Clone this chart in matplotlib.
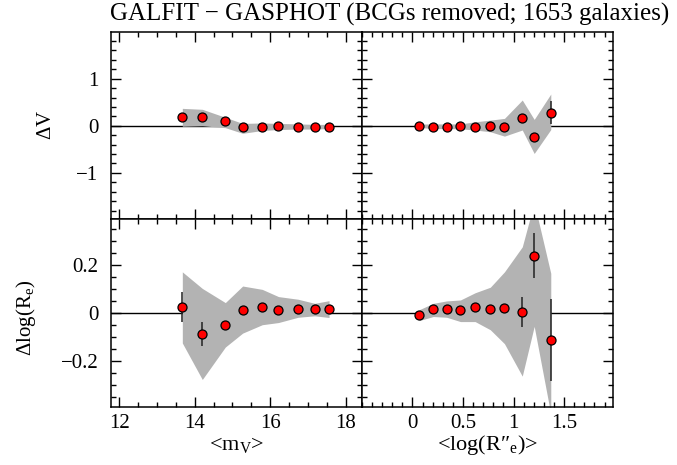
import numpy as np
import matplotlib
matplotlib.use("Agg")
import matplotlib.pyplot as plt
from matplotlib.ticker import MultipleLocator, FixedLocator, FuncFormatter

plt.rcParams['font.family'] = ['Liberation Serif', 'DejaVu Serif']
plt.rcParams['mathtext.fontset'] = 'custom'
plt.rcParams['mathtext.rm'] = 'Liberation Serif'
plt.rcParams['mathtext.it'] = 'Liberation Serif:italic'

# bins in apparent magnitude
mag = [13.67, 14.20, 14.81, 15.27, 15.79, 16.22, 16.74, 17.18, 17.56]
dv_mag = [0.18, 0.19, 0.11, -0.02, -0.02, -0.01, -0.02, -0.02, -0.02]
dv_mag_err = [0.03, 0.03, 0.03, 0.02, 0.02, 0.02, 0.02, 0.02, 0.02]
dv_mag_hi = [0.37, 0.35, 0.18, 0.05, 0.06, 0.05, 0.04, 0.03, 0.03]
dv_mag_lo = [-0.01, 0.0, -0.04, -0.16, -0.10, -0.08, -0.07, -0.07, -0.06]
dr_mag = [0.026, -0.086, -0.051, 0.015, 0.026, 0.015, 0.019, 0.018, 0.019]
dr_mag_err = [0.062, 0.05, 0.012, 0.008, 0.006, 0.005, 0.005, 0.004, 0.004]
dr_mag_hi = [0.172, 0.103, 0.044, 0.113, 0.099, 0.069, 0.058, 0.041, 0.052]
dr_mag_lo = [-0.124, -0.276, -0.141, -0.083, -0.048, -0.039, -0.017, -0.011, -0.018]

# bins in log effective radius
logre = [0.065, 0.206, 0.338, 0.475, 0.62, 0.77, 0.91, 1.086, 1.204, 1.368]
dv_re = [0.0, -0.02, -0.03, 0.0, -0.03, 0.0, -0.02, 0.17, -0.23, 0.28]
dv_re_err = [0.02, 0.02, 0.02, 0.02, 0.02, 0.02, 0.03, 0.04, 0.07, 0.24]
dv_re_hi = [0.036, 0.04, 0.04, 0.04, 0.085, 0.12, 0.157, 0.547, 0.135, 0.674]
dv_re_lo = [-0.035, -0.06, -0.06, -0.064, -0.09, -0.127, -0.22, -0.09, -0.588, -0.08]
dr_re = [-0.008, 0.017, 0.017, 0.012, 0.027, 0.018, 0.023, 0.005, 0.24, -0.113]
dr_re_err = [0.004, 0.005, 0.005, 0.006, 0.007, 0.008, 0.012, 0.062, 0.095, 0.17]
dr_re_hi = [0.014, 0.041, 0.051, 0.055, 0.085, 0.108, 0.172, 0.276, 0.46, 0.166]
dr_re_lo = [-0.031, -0.014, -0.017, -0.035, -0.035, -0.069, -0.127, -0.262, -0.055, -0.42]

fig, axs = plt.subplots(2, 2, figsize=(6.77, 4.65), dpi=100)
fig.subplots_adjust(left=0.164, right=0.905, bottom=0.125, top=0.931, wspace=0, hspace=0)

panels = [
    (axs[0, 0], mag, dv_mag, dv_mag_err, dv_mag_lo, dv_mag_hi),
    (axs[0, 1], logre, dv_re, dv_re_err, dv_re_lo, dv_re_hi),
    (axs[1, 0], mag, dr_mag, dr_mag_err, dr_mag_lo, dr_mag_hi),
    (axs[1, 1], logre, dr_re, dr_re_err, dr_re_lo, dr_re_hi),
]

def fmt(v, pos):
    s = '%g' % round(v, 3)
    return s.replace('-', '\u2212')

for ax, x, y, e, lo, hi in panels:
    ax.axhline(0, color='black', lw=1.0, zorder=1)
    ax.fill_between(x, lo, hi, color='#b3b3b3', lw=0, zorder=2)
    ax.errorbar(x, y, yerr=e, fmt='none', ecolor='#222222', elinewidth=1.1, zorder=3)
    ax.plot(x, y, 'o', ms=6.5, mfc='#ff0000', mec='black', mew=0.9, zorder=4)
    ax.tick_params(which='both', direction='in', top=True, right=True,
                   labelsize=15, width=1.0)
    ax.tick_params(axis='y', pad=9)
    ax.tick_params(axis='x', pad=5)
    ax.tick_params(which='major', length=7.2)
    ax.tick_params(which='minor', length=3.3)
    for s in ax.spines.values():
        s.set_linewidth(1.1)
    ax.xaxis.set_major_formatter(FuncFormatter(fmt))
    ax.yaxis.set_major_formatter(FuncFormatter(fmt))

for ax in axs[:, 0]:
    ax.set_xlim(11.78, 18.43)
    ax.xaxis.set_major_locator(MultipleLocator(2))
    ax.xaxis.set_minor_locator(MultipleLocator(0.5))
for ax in axs[:, 1]:
    ax.set_xlim(-0.5, 1.98)
    ax.xaxis.set_major_locator(FixedLocator([0, 0.5, 1, 1.5]))
    ax.xaxis.set_minor_locator(MultipleLocator(0.1))
for ax in axs[0, :]:
    ax.set_ylim(-1.99, 1.99)
    ax.yaxis.set_major_locator(FixedLocator([-1, 0, 1]))
    ax.yaxis.set_minor_locator(MultipleLocator(0.2))
for ax in axs[1, :]:
    ax.set_ylim(-0.39, 0.39)
    ax.yaxis.set_major_locator(FixedLocator([-0.2, 0, 0.2]))
    ax.yaxis.set_minor_locator(MultipleLocator(0.05))

for ax in axs[0, :]:
    ax.tick_params(labelbottom=False)
for ax in axs[:, 1]:
    ax.tick_params(labelleft=False)

fig.text(0.575, 0.968, 'GALFIT \u2212 GASPHOT (BCGs removed; 1653 galaxies)',
         ha='center', va='center', fontsize=18)
fig.text(0.069, 0.731, r'$\Delta$V', rotation=90, ha='center', va='center', fontsize=15)
fig.text(0.038, 0.316, r'$\Delta$log(R$_{\rm e}$)', rotation=90, ha='center', va='center', fontsize=15)
fig.text(0.349, 0.032, r'<m$_{\rm V}$>', ha='center', va='baseline', fontsize=16)
fig.text(0.72, 0.032, '<log(R\u2033$_{\\rm e}$)>', ha='center', va='baseline', fontsize=16)

plt.savefig('out.png', dpi=100)
